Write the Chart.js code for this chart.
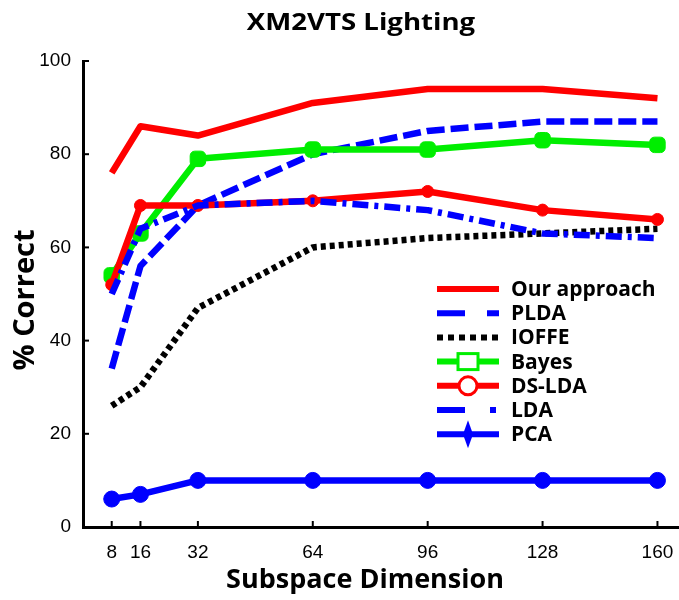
<!DOCTYPE html>
<html>
<head>
<meta charset="utf-8">
<script src="https://cdn.jsdelivr.net/npm/chart.js@4/dist/chart.umd.min.js"></script>
<style>
  html, body { margin: 0; padding: 0; background: #fff; }
  #wrap { width: 679px; height: 600px; }
</style>
</head>
<body>
<div id="wrap"><canvas id="c" width="679" height="600"></canvas></div>
<script>
// Subspace dimensions tested
const dims = [8, 16, 32, 64, 96, 128, 160];
const yTicks = [0, 20, 40, 60, 80, 100];

// Recognition rate (% correct) per method
const ourApproach = [76, 86, 84, 91, 94, 94, 92];
const plda        = [34, 56, 69, 80, 85, 87, 87];
const ioffe       = [26, 30, 47, 60, 62, 63, 64];
const bayes       = [54, 63, 79, 81, 81, 83, 82];
const dsLda       = [52, 69, 69, 70, 72, 68, 66];
const lda         = [50, 64, 69, 70, 68, 63, 62];
const pca         = [6, 7, 10, 10, 10, 10, 10];

const RED = '#ff0000', BLUE = '#0000ff', GREEN = '#00ee00', BLACK = '#000000';

const pts = arr => dims.map((d, i) => ({ x: d, y: arr[i] }));

const series = [
  { label: 'Our approach', data: ourApproach, color: RED,   dash: [],            marker: 'none' },
  { label: 'PLDA',         data: plda,        color: BLUE,  dash: [18, 6],       marker: 'none',   legendDash: [28, 22] },
  { label: 'IOFFE',        data: ioffe,       color: BLACK, dash: [5, 4],        marker: 'none',   legendDash: [6, 5] },
  { label: 'Bayes',        data: bayes,       color: GREEN, dash: [],            marker: 'rect' },
  { label: 'DS-LDA',       data: dsLda,       color: RED,   dash: [],            marker: 'circle' },
  { label: 'LDA',          data: lda,         color: BLUE,  dash: [16, 6, 4, 6], marker: 'none',   legendDash: [28, 25, 6, 20] },
  { label: 'PCA',          data: pca,         color: BLUE,  dash: [],            marker: 'diamond' }
];

const datasets = series.map((s, i) => {
  let pointStyle = 'circle', radius = 0;
  if (s.marker === 'rect')    { pointStyle = 'rectRounded'; radius = 9; }
  if (s.marker === 'circle')  { pointStyle = 'circle'; radius = 6; }
  if (s.marker === 'diamond') { pointStyle = 'circle'; radius = 8; }
  return {
    label: s.label,
    data: pts(s.data),
    borderColor: s.color,
    backgroundColor: s.color,
    borderWidth: 6.5,
    borderDash: s.dash,
    borderCapStyle: 'butt',
    borderJoinStyle: 'round',
    pointStyle: pointStyle,
    pointRadius: radius,
    pointHoverRadius: radius,
    pointBackgroundColor: s.color,
    pointBorderColor: s.color,
    pointBorderWidth: 1,
    tension: 0,
    fill: false,
    clip: false,
    order: series.length - i,
    _marker: s.marker,
    _legendDash: s.legendDash || s.dash
  };
});

// Inward tick marks on both axes
const innerTicks = {
  id: 'innerTicks',
  afterDatasetsDraw(chart) {
    const { ctx, chartArea, scales } = chart;
    ctx.save();
    ctx.strokeStyle = BLACK;
    ctx.lineWidth = 2;
    dims.forEach(v => {
      const px = scales.x.getPixelForValue(v);
      ctx.beginPath(); ctx.moveTo(px, chartArea.bottom); ctx.lineTo(px, chartArea.bottom - 6); ctx.stroke();
    });
    yTicks.forEach(v => {
      const py = scales.y.getPixelForValue(v);
      ctx.beginPath(); ctx.moveTo(chartArea.left, py); ctx.lineTo(chartArea.left + 6, py); ctx.stroke();
    });
    ctx.restore();
  }
};

// Draw a text string centred at (x, y), stretched horizontally by sx
function stretchedText(ctx, text, x, y, sx) {
  ctx.save();
  ctx.translate(x, y);
  ctx.scale(sx, 1);
  ctx.fillText(text, 0, 0);
  ctx.restore();
}

// Titles
const titles = {
  id: 'titles',
  afterDraw(chart) {
    const { ctx } = chart;
    ctx.save();
    ctx.fillStyle = BLACK;
    ctx.textAlign = 'center';
    ctx.textBaseline = 'middle';
    ctx.font = 'bold 23px "Open Sans", sans-serif';
    stretchedText(ctx, 'XM2VTS Lighting', 361, 23, 1.2);
    ctx.font = 'bold 27px "Open Sans", sans-serif';
    stretchedText(ctx, 'Subspace Dimension', 365, 580, 1.0);
    ctx.translate(26, 300);
    ctx.rotate(-Math.PI / 2);
    ctx.font = 'bold 29px "Open Sans", sans-serif';
    ctx.fillText('% Correct', 0, 0);
    ctx.restore();
  }
};

// Legend box inside the plot
const legendBox = {
  id: 'legendBox',
  afterDraw(chart) {
    const { ctx } = chart;
    const x0 = 437, x1 = 499, tx = 511, y0 = 289, dy = 24.2;
    ctx.save();
    ctx.font = 'bold 21px "Open Sans", sans-serif';
    ctx.textBaseline = 'middle';
    ctx.textAlign = 'left';
    chart.data.datasets.forEach((ds, i) => {
      const y = y0 + i * dy;
      ctx.strokeStyle = ds.borderColor;
      ctx.lineWidth = 6;
      ctx.lineCap = 'butt';
      ctx.setLineDash(ds._legendDash);
      ctx.beginPath(); ctx.moveTo(x0, y); ctx.lineTo(x1, y); ctx.stroke();
      ctx.setLineDash([]);
      const cx = (x0 + x1) / 2;
      if (ds._marker === 'rect') {
        ctx.fillStyle = '#fff'; ctx.lineWidth = 3;
        ctx.fillRect(cx - 10, y - 8, 20, 16); ctx.strokeRect(cx - 10, y - 8, 20, 16);
      } else if (ds._marker === 'circle') {
        ctx.fillStyle = '#fff'; ctx.lineWidth = 3;
        ctx.beginPath(); ctx.arc(cx, y, 9, 0, Math.PI * 2); ctx.fill(); ctx.stroke();
      } else if (ds._marker === 'diamond') {
        ctx.fillStyle = ds.borderColor;
        ctx.beginPath(); ctx.moveTo(cx, y - 14); ctx.lineTo(cx + 5, y); ctx.lineTo(cx, y + 14); ctx.lineTo(cx - 5, y); ctx.closePath(); ctx.fill();
      }
      ctx.fillStyle = BLACK;
      ctx.fillText(ds.label, tx, y + 1);
    });
    ctx.restore();
  }
};

new Chart(document.getElementById('c'), {
  type: 'line',
  data: { datasets },
  options: {
    responsive: false,
    animation: false,
    devicePixelRatio: 1,
    layout: { autoPadding: false, padding: { top: 61, right: 0, bottom: 0, left: 0 } },
    plugins: { legend: { display: false }, tooltip: { enabled: false }, title: { display: false } },
    scales: {
      x: {
        type: 'linear',
        min: 0, max: 166,
        afterBuildTicks: s => { s.ticks = dims.map(v => ({ value: v })); },
        afterFit: s => { s.height = 73; s.paddingLeft = 0; s.paddingRight = 0; },
        grid: { display: true, drawOnChartArea: false, drawTicks: false },
        border: { display: true, color: BLACK, width: 3 },
        ticks: { color: BLACK, font: { family: '"Liberation Sans", Arial, sans-serif', size: 19 }, padding: 14, maxRotation: 0, autoSkip: false }
      },
      y: {
        min: 0, max: 100,
        afterBuildTicks: s => { s.ticks = yTicks.map(v => ({ value: v })); },
        afterFit: s => { s.width = 83; s.paddingTop = 0; s.paddingBottom = 0; },
        grid: { display: true, drawOnChartArea: false, drawTicks: false },
        border: { display: true, color: BLACK, width: 3 },
        ticks: { color: BLACK, font: { family: '"Liberation Sans", Arial, sans-serif', size: 19 }, padding: 12 }
      }
    }
  },
  plugins: [innerTicks, titles, legendBox]
});
</script>
</body>
</html>
